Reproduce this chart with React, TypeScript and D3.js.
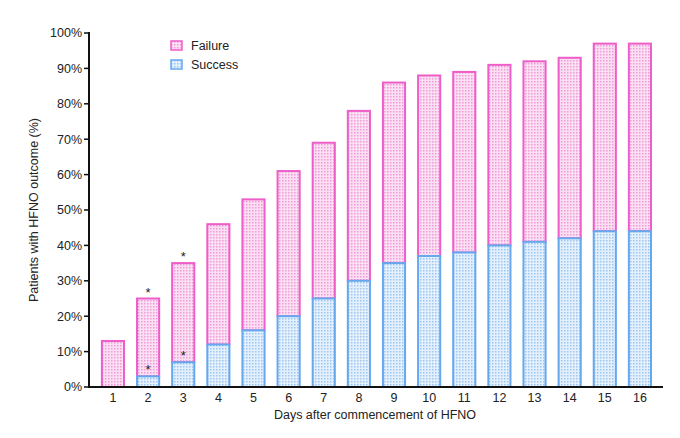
import React from "react";
import * as d3 from "d3";

const days = ["1","2","3","4","5","6","7","8","9","10","11","12","13","14","15","16"];
const successPct = [0, 3, 7, 12, 16, 20, 25, 30, 35, 37, 38, 40, 41, 42, 44, 44];
const totalPct = [13, 25, 35, 46, 53, 61, 69, 78, 86, 88, 89, 91, 92, 93, 97, 97];
const failurePct = totalPct.map((t, i) => t - successPct[i]);
const yTicks = [0, 10, 20, 30, 40, 50, 60, 70, 80, 90, 100];
const starTop = ["2", "3"];
const starInside = ["2", "3"];
const seriesNames = ["Failure", "Success"];

const W = 680, H = 438;
const left = 89, top = 33, bottom = 387;
const PINK = "#ee5ec9";
const BLUE = "#66a8ee";
const FONT = "'Liberation Sans', Arial, Helvetica, sans-serif";

export default function App() {
  const x = d3.scaleBand<string>().domain(days).range([95.4, 657.5]).paddingInner(0.37).paddingOuter(0.185);
  const y = d3.scaleLinear().domain([0, 100]).range([bottom, top]);
  const bw = x.bandwidth();
  return (
    <svg width={W} height={H} style={{ position: "absolute", left: 0, top: 0, background: "#fff" }}>
      <defs>
        <pattern id="pinkDots" width="3" height="3" patternUnits="userSpaceOnUse">
          <rect width="3" height="3" fill="#fbe0f4" />
          <rect x="0" y="0" width="1.5" height="1.5" fill="#f09ad9" />
        </pattern>
        <pattern id="blueDots" width="3" height="3" patternUnits="userSpaceOnUse">
          <rect width="3" height="3" fill="#e4f0fc" />
          <rect x="0" y="0" width="1.5" height="1.5" fill="#9cc6f2" />
        </pattern>
      </defs>
      {days.map((d, i) => {
        const x0 = x(d)!;
        const s = successPct[i];
        const t = s + failurePct[i];
        return (
          <g key={d}>
            <rect x={x0} y={y(t)} width={bw} height={y(s) - y(t)} fill="url(#pinkDots)" stroke={PINK} strokeWidth={2} />
            {s > 0 && (
              <rect x={x0} y={y(s)} width={bw} height={y(0) - y(s)} fill="url(#blueDots)" stroke={BLUE} strokeWidth={2} />
            )}
          </g>
        );
      })}
      {days.map((d, i) => {
        const cx = x(d)! + bw / 2;
        return (
          <g key={"s" + d} fontFamily={FONT} fontSize={13} textAnchor="middle" fill="#222">
            {starTop.includes(d) && <text x={cx} y={y(totalPct[i]) - 2}>*</text>}
            {starInside.includes(d) && <text x={cx} y={y(successPct[i]) - 2}>*</text>}
          </g>
        );
      })}
      {/* axes */}
      <line x1={left} x2={left} y1={top - 1} y2={bottom + 1} stroke="#111" strokeWidth={2} />
      <line x1={left - 1} x2={663} y1={bottom} y2={bottom} stroke="#111" strokeWidth={2} />
      {yTicks.map((t) => (
        <g key={t}>
          <line x1={left - 5} x2={left} y1={y(t)} y2={y(t)} stroke="#111" strokeWidth={1.5} />
          <text x={left - 7} y={y(t)} dy="0.35em" textAnchor="end" fontFamily={FONT} fontSize={12.5} fill="#222">{t}%</text>
        </g>
      ))}
      {days.map((d) => (
        <text key={"l" + d} x={x(d)! + bw / 2} y={402} textAnchor="middle" fontFamily={FONT} fontSize={12.5} fill="#222">{d}</text>
      ))}
      <text x={375} y={419} textAnchor="middle" fontFamily={FONT} fontSize={12.5} fill="#222">Days after commencement of HFNO</text>
      <text transform={`translate(38,${(top + bottom) / 2}) rotate(-90)`} textAnchor="middle" fontFamily={FONT} fontSize={12.5} fill="#222">Patients with HFNO outcome (%)</text>
      {/* legend */}
      {seriesNames.map((n, i) => (
        <g key={n} transform={`translate(171,${41 + i * 19})`}>
          <rect x={0} y={0} width={11} height={9} fill={i === 0 ? "url(#pinkDots)" : "url(#blueDots)"} stroke={i === 0 ? PINK : BLUE} strokeWidth={1.5} />
          <text x={20} y={4.5} dy="0.35em" fontFamily={FONT} fontSize={12.5} fill="#222">{n}</text>
        </g>
      ))}
    </svg>
  );
}
